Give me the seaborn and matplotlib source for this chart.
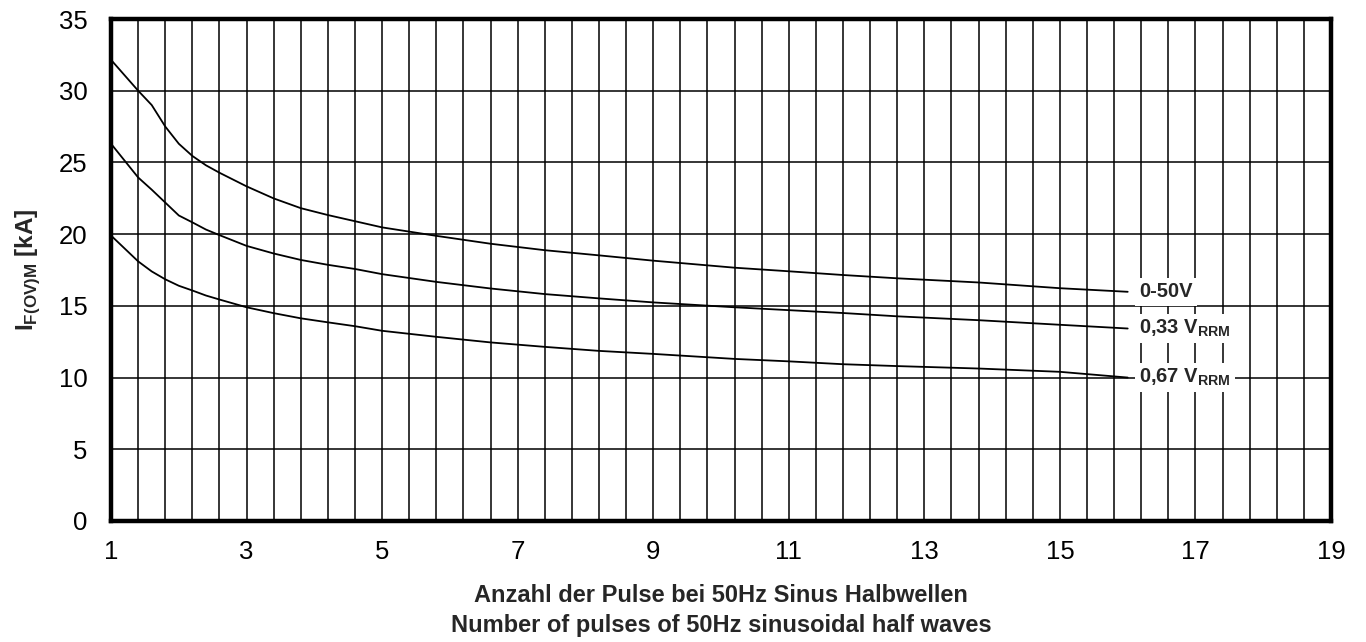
import numpy as np
import pandas as pd
import seaborn as sns
import matplotlib.pyplot as plt
from matplotlib.ticker import FixedLocator

# Werte
pulses = [1.0, 1.4, 1.6, 1.8, 2.0, 2.2, 2.4, 2.6, 3.0, 3.4, 3.8, 4.2, 4.6,
          5.0, 5.8, 6.6, 7.4, 8.2, 9.0, 10.2, 11.0, 11.8, 12.6, 13.8, 15.0, 16.0]
i_0_50v = [32.15, 30.0, 29.0, 27.5, 26.3, 25.45, 24.8, 24.28, 23.33, 22.49, 21.81, 21.33, 20.9,
           20.47, 19.88, 19.33, 18.88, 18.52, 18.15, 17.66, 17.41, 17.15, 16.92, 16.63, 16.23, 15.98]
i_033 = [26.3, 23.95, 23.1, 22.2, 21.3, 20.82, 20.32, 19.93, 19.18, 18.65, 18.2, 17.86, 17.57,
         17.21, 16.67, 16.21, 15.82, 15.52, 15.24, 14.9, 14.7, 14.5, 14.27, 14.0, 13.68, 13.42]
i_067 = [19.9, 18.1, 17.4, 16.85, 16.4, 16.07, 15.72, 15.44, 14.9, 14.49, 14.13, 13.85, 13.58,
         13.26, 12.84, 12.45, 12.14, 11.86, 11.65, 11.3, 11.13, 10.93, 10.8, 10.63, 10.4, 10.0]
curve_labels = ['0-50V', r'0,33 V$_{\mathbf{RRM}}$', r'0,67 V$_{\mathbf{RRM}}$']

sns.set_style('white')
plt.rcParams['font.family'] = ['Liberation Sans', 'DejaVu Sans']
plt.rcParams['mathtext.fontset'] = 'custom'
plt.rcParams['mathtext.rm'] = 'Liberation Sans'
plt.rcParams['mathtext.bf'] = 'Liberation Sans:bold'

fig = plt.figure(figsize=(13.66, 6.42), dpi=100)
ax = fig.add_axes([0.0813, 0.1885, 0.8931, 0.7819])

for ys, lab in zip([i_0_50v, i_033, i_067], curve_labels):
    df = pd.DataFrame({'n': pulses, 'i': ys})
    sns.lineplot(data=df, x='n', y='i', color='black', lw=1.3, sort=False,
                 estimator=None, ax=ax, zorder=3)
    ax.text(pulses[-1] + 0.17, ys[-1], lab, ha='left', va='center', fontsize=14.5,
            fontweight='bold', zorder=4,
            bbox=dict(facecolor='white', edgecolor='none', pad=3))

ax.set_xlim(1, 19)
ax.set_ylim(0, 35)
ax.xaxis.set_major_locator(FixedLocator(np.arange(1, 20, 2)))
ax.xaxis.set_minor_locator(FixedLocator(np.arange(1, 19.01, 0.4)))
ax.set_yticks(np.arange(0, 36, 5))
ax.grid(which='both', axis='x', color='black', lw=1.1)
ax.grid(which='major', axis='y', color='black', lw=1.1)
ax.set_axisbelow(True)
ax.tick_params(axis='both', which='major', direction='out', length=6, width=1.3,
               labelsize=18.5, color='black', labelcolor='black', pad=8)
ax.tick_params(axis='y', which='major', pad=11)
ax.tick_params(axis='x', which='minor', direction='out', length=5, width=1.1, color='black')
for s in ax.spines.values():
    s.set_linewidth(3.2)
    s.set_color('black')

ax.set_xlabel('Anzahl der Pulse bei 50Hz Sinus Halbwellen\nNumber of pulses of 50Hz sinusoidal half waves',
              fontsize=17, fontweight='bold', linespacing=1.4, labelpad=14)
ax.set_ylabel(r'$\mathbf{I}_{\mathbf{F(OV)M}}$ [kA]', fontsize=17.5, fontweight='bold', labelpad=12)

fig.savefig('out.png', dpi=100)
